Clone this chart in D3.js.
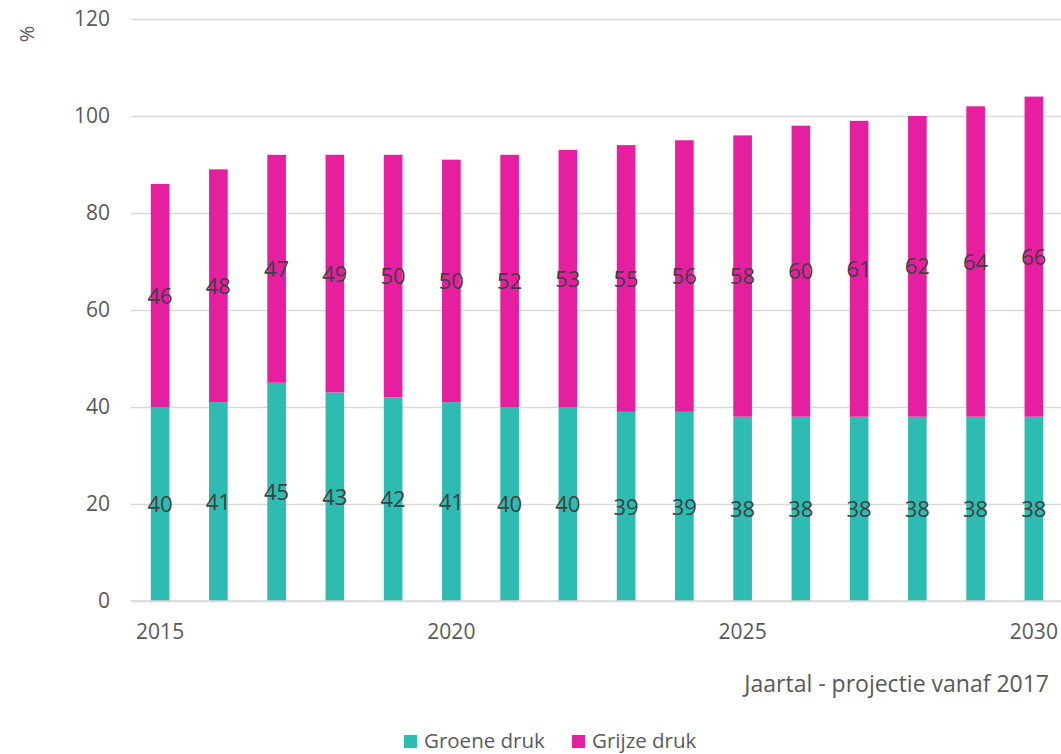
<!DOCTYPE html>
<html><head><meta charset="utf-8">
<script src="https://cdn.jsdelivr.net/npm/d3@7"></script>
<style>body{margin:0;background:#fff;} text{font-family:"Open Sans",sans-serif;}</style>
</head><body>
<svg id="chart" width="1061" height="754"></svg>
<script>
const years = [2015,2016,2017,2018,2019,2020,2021,2022,2023,2024,2025,2026,2027,2028,2029,2030];
const groeneDruk = [40,41,45,43,42,41,40,40,39,39,38,38,38,38,38,38];
const grijzeDruk = [46,48,47,49,50,50,52,53,55,56,58,60,61,62,64,66];
const yTicks = [0,20,40,60,80,100,120];
const xTickLabels = [2015,2020,2025,2030];
const seriesNames = ["Groene druk","Grijze druk"];
const colors = ["#2ebbb1","#e61fa0"];

const svg = d3.select("#chart");
const mLeft = 131, mRight = 1063, mTop = 19, mBottom = 601;
const x = d3.scaleBand().domain(years).range([mLeft, mRight]).padding(0);
const y = d3.scaleLinear().domain([0,120]).range([mBottom, mTop]);
const barW = x.bandwidth()*0.32;
const textCol = "#595959";

// gridlines + y axis
const yAxis = svg.append("g").attr("transform",`translate(${mLeft},0)`)
  .call(d3.axisLeft(y).tickValues(yTicks).tickSize(-(1061-mLeft)).tickPadding(21));
yAxis.select(".domain").remove();
yAxis.selectAll(".tick line").attr("stroke","#d9d9d9").attr("stroke-width",1.5);
yAxis.selectAll(".tick text").attr("fill",textCol).style("font-size","21px").style("font-family","Open Sans");

// x axis labels
const xAxis = svg.append("g").attr("transform",`translate(0,${mBottom})`)
  .call(d3.axisBottom(x).tickValues(xTickLabels).tickSize(0).tickPadding(23));
xAxis.select(".domain").remove();
xAxis.selectAll(".tick text").attr("fill",textCol).style("font-size","21px").style("font-family","Open Sans");

const stackData = years.map((yr,i)=>({year:yr, g:groeneDruk[i], p:grijzeDruk[i]}));
const stack = d3.stack().keys(["g","p"])(stackData);

stack.forEach((layer,li)=>{
  const g = svg.append("g");
  g.selectAll("rect").data(layer).join("rect")
    .attr("x",d=>x(d.data.year)+x.bandwidth()/2-barW/2)
    .attr("width",barW)
    .attr("y",d=>y(d[1]))
    .attr("height",d=>y(d[0])-y(d[1]))
    .attr("fill",colors[li]);
});
stack.forEach((layer,li)=>{
  svg.append("g").selectAll("text").data(layer).join("text")
    .attr("x",d=>x(d.data.year)+x.bandwidth()/2)
    .attr("y",d=>y((d[0]+d[1])/2))
    .attr("dy","0.37em")
    .attr("text-anchor","middle")
    .attr("fill","#404040")
    .style("font-size","22px")
    .text(d=>d[1]-d[0]);
});

// bottom domain line
svg.append("line").attr("x1",mLeft).attr("x2",1061).attr("y1",y(0)).attr("y2",y(0))
  .attr("stroke","#d9d9d9").attr("stroke-width",1.5);

// y title
svg.append("text").attr("transform","translate(27,34) rotate(-90)")
  .attr("text-anchor","middle").attr("dy","0.35em").attr("fill",textCol).style("font-size","20px").text("%");

// x title
svg.append("text").attr("x",1049).attr("y",692).attr("text-anchor","end")
  .attr("fill",textCol).style("font-size","23px").text("Jaartal - projectie vanaf 2017");

// legend
const legX = [404, 572];
seriesNames.forEach((n,i)=>{
  svg.append("rect").attr("x",legX[i]).attr("y",735).attr("width",13).attr("height",13).attr("fill",colors[i]);
  svg.append("text").attr("x",legX[i]+20).attr("y",748).attr("fill",textCol).style("font-size","20.5px").text(n);
});
</script>
</body></html>
